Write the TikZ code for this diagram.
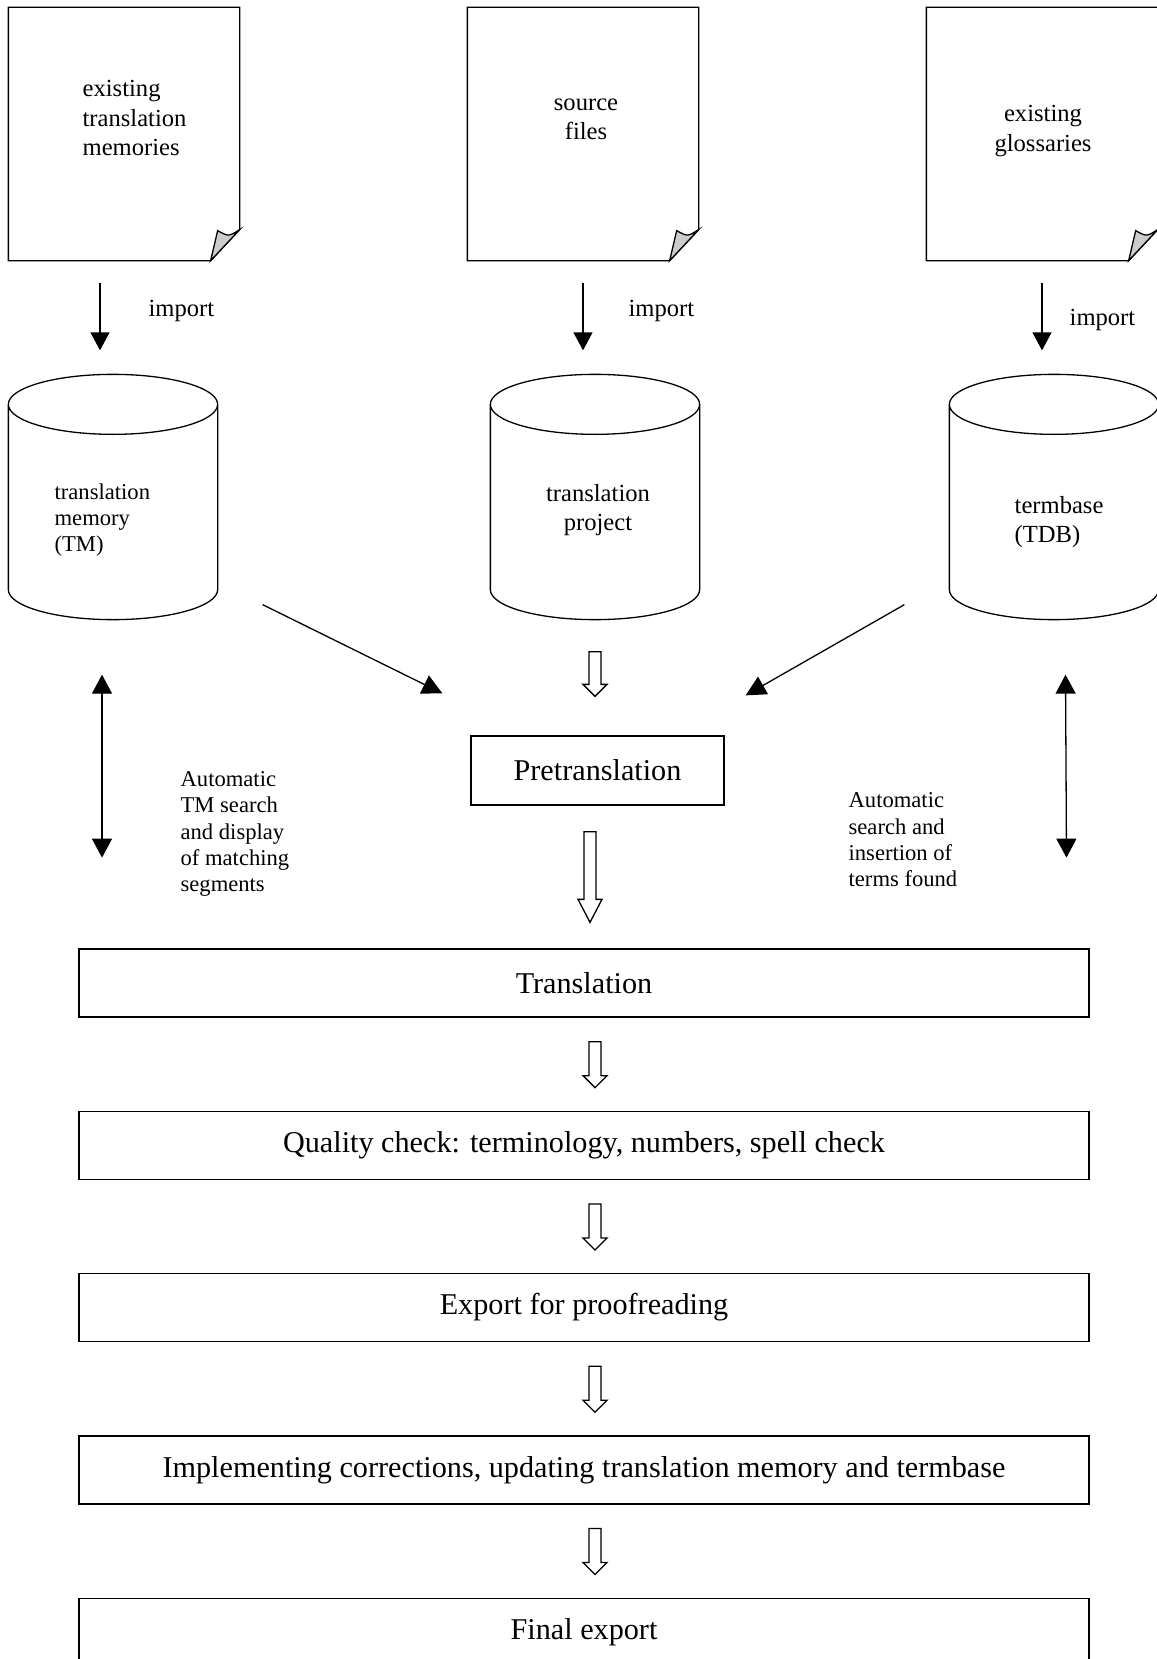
\documentclass[tikz,border=0pt]{standalone}
\usepackage{fontspec}
\setmainfont{Liberation Serif}
\usetikzlibrary{arrows.meta, positioning, calc}

\begin{document}
\begin{tikzpicture}[x=0.5pt, y=-0.5pt, line width=0.65pt,
  doc/.style={minimum width=115pt, minimum height=126pt, inner sep=0pt},
  cyl/.style={minimum width=104pt, minimum height=122pt, inner sep=0pt},
  wide/.style={draw, minimum width=505pt, minimum height=34pt, font=\fontsize{15.1}{18}\selectfont},
  big/.style={font=\fontsize{12.3}{14.6}\selectfont, inner sep=0pt},
  small/.style={font=\fontsize{11.3}{13.2}\selectfont, inner sep=0pt, align=left},
  imp/.style={-{Triangle[length=9pt, width=9.5pt]}},
  dbl/.style={{Triangle[length=9.5pt, width=10pt]}-{Triangle[length=9.5pt, width=10pt]}},
  hollow/.style n args={3}{fill=white, to path={let \p1=(\tikztostart), \p2=(\tikztotarget) in
    (\x1-3pt,\y1-#1) -- (\x1+3pt,\y1-#1) -- (\x1+3pt,\y2+#2+#3) -- (\x1+6pt,\y2+#2+#3)
    -- (\x1,\y2+#2) -- (\x1-6pt,\y2+#2+#3) -- (\x1-3pt,\y2+#2+#3) -- cycle}}]

  \useasboundingbox (0,0) rectangle (1156,1659);

  % Input files
  \node[doc] (etm) at (124,134) {};
  \node[doc] (src) at (583,134) {};
  \node[doc] (egl) at (1042,134) {};
  \foreach \d in {etm,src,egl}{
    \draw (\d.north west) -- (\d.north east) -- ([yshift=15.5pt]\d.south east)
      -- ([xshift=-14.5pt]\d.south east) -- (\d.south west) -- cycle;
    \draw[fill=gray!40] ([xshift=-14.5pt]\d.south east) -- ([xshift=-11pt,yshift=15pt]\d.south east)
      .. controls ([xshift=-5.5pt,yshift=12pt]\d.south east) .. ([yshift=15.5pt]\d.south east) -- cycle;
  }
  \node[big, align=left, anchor=west] (etmtxt) at (82,118) {existing\\translation\\memories};
  \node[big, align=center] (srctxt) at (586,119) {source\\files};
  \node[big, align=center] (egltxt) at (1043,131) {existing\\glossaries};

  % Databases
  \node[cyl] (tm) at (113,497) {};
  \node[cyl] (proj) at (595,497) {};
  \node[cyl] (tdb) at (1054,497) {};
  \foreach \c in {tm,proj,tdb}{
    \draw let \p1=(\c.north west), \p2=(\c.south east) in
      (\x1,\y1-15pt) -- (\x1,\y2+15pt)
      arc[start angle=180, end angle=360, x radius={(\x2-\x1)/2}, y radius=15pt]
      -- (\x2,\y1-15pt)
      ({(\x1+\x2)/2},\y1-15pt) ellipse[x radius={(\x2-\x1)/2}, y radius=15pt];
  }
  \node[small, anchor=west] (tmtxt) at (54,520) {translation\\memory\\(TM)};
  \node[big, align=center] (projtxt) at (598,510) {translation\\project};
  \node[big, align=left, anchor=west] (tdbtxt) at (1014,522) {termbase\\(TDB)};

  % Import
  \draw[imp, shorten <=11pt, shorten >=12pt] ([xshift=-12pt]etm.south) -- ([xshift=-12pt]etm.south |- tm.north)
    node[big, midway, anchor=west, xshift=24pt, yshift=3.25pt] {import};
  \draw[imp, shorten <=11pt, shorten >=12pt] (src.south) -- (src.south |- proj.north)
    node[big, midway, anchor=west, xshift=22.5pt, yshift=3.25pt] {import};
  \draw[imp, shorten <=11pt, shorten >=12pt] (egl.south) -- (egl.south |- tdb.north)
    node[big, midway, anchor=west, xshift=13.5pt, yshift=-1.25pt] {import};

  % Workflow
  \node[draw, minimum width=126.5pt, minimum height=34.5pt, font=\fontsize{15.1}{18}\selectfont] (pre) at (597.5,770.5) {Pretranslation};
  \node[wide] (tr) at (584,983) {Translation};
  \node[wide, below=46.5pt of tr] (qc) {Quality check: terminology, numbers, spell check};
  \node[wide, below=46.5pt of qc] (ex) {Export for proofreading};
  \node[wide, below=46.5pt of ex] (imp) {Implementing corrections, updating translation memory and termbase};
  \node[wide, below=46.5pt of imp] (fin) {Final export};

  \draw[imp, -{Triangle[length=10pt, width=10pt]}] ([shift={(45,-15)}]tm.south east) -- ([shift={(-28,-42)}]pre.north west);
  \draw[imp, -{Triangle[length=10pt, width=10pt]}] ([shift={(-45,-15)}]tdb.south west) -- ([shift={(21,-40)}]pre.north east);
  \draw[hollow={16pt}{19.5pt}{6pt}] (proj.south) to (proj.south |- pre.north);
  \draw[hollow={13pt}{13pt}{11.5pt}] ([xshift=-3.75pt]pre.south) to ([xshift=-3.75pt]pre.south |- tr.north);
  \foreach \a/\b in {tr/qc, qc/ex, ex/imp, imp/fin}
    \draw[hollow={12pt}{11.5pt}{6pt}] ([xshift=5.5pt]\a.south) to ([xshift=5.5pt]\b.north);

  % Automatic lookup
  \draw[dbl] ([shift={(-11,55)}]tm.south) -- ([shift={(-11,238)}]tm.south);
  \draw[dbl] ([shift={(11.5,55)}]tdb.south) -- ([shift={(12.5,238)}]tdb.south);
  \node[small, anchor=west] (tmlbl) at (180,834) {Automatic\\TM search\\and display\\of matching\\segments};
  \node[small, anchor=west] (tdblbl) at (848,840) {Automatic\\search and\\insertion of\\terms found};
\end{tikzpicture}
\end{document}
